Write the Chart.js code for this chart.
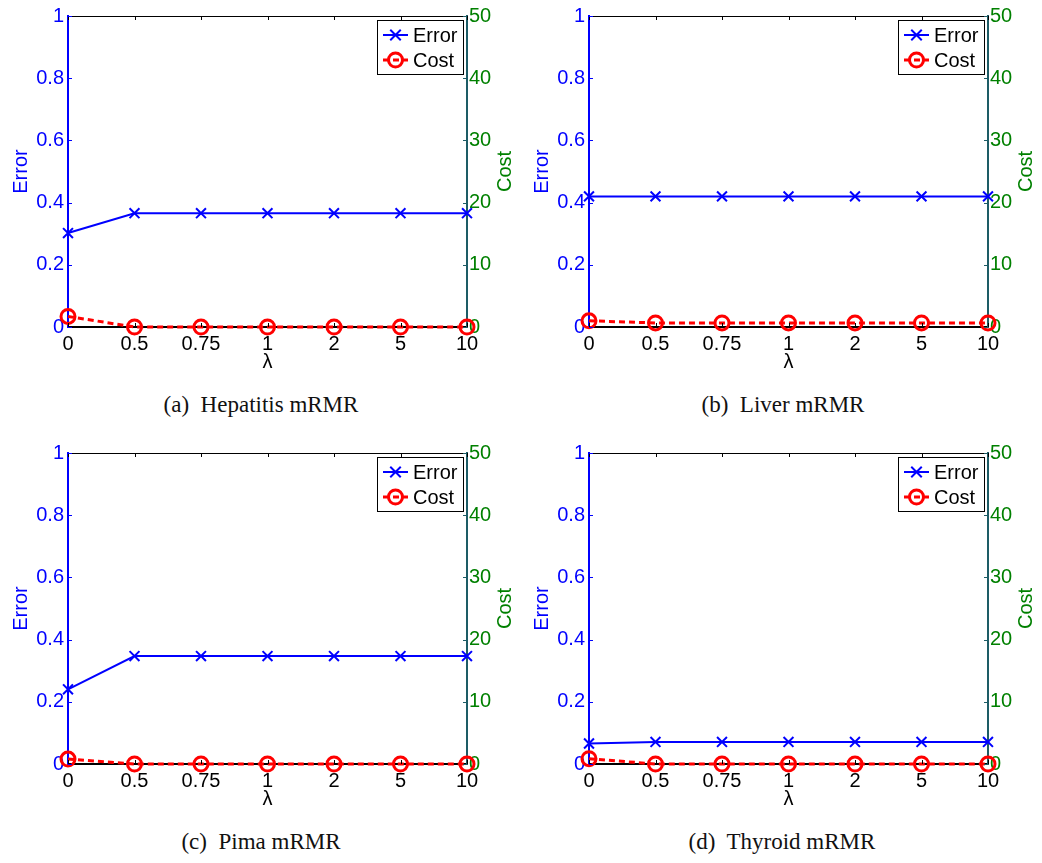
<!DOCTYPE html>
<html>
<head>
<meta charset="utf-8">
<script src="https://cdn.jsdelivr.net/npm/chart.js@4"></script>
<style>
  body { margin: 0; background: #fff; width: 1042px; height: 863px; position: relative; overflow: hidden; }
  .panel { position: absolute; width: 520px; height: 380px; }
  .caption { position: absolute; width: 520px; text-align: center; font-family: "Liberation Serif", "Times New Roman", serif; font-size: 23px; color: #111; white-space: pre; }
</style>
</head>
<body>
<canvas id="c-a" class="panel" width="520" height="380" style="left:0;top:0"></canvas>
<canvas id="c-b" class="panel" width="520" height="380" style="left:521px;top:0"></canvas>
<canvas id="c-c" class="panel" width="520" height="380" style="left:0;top:437px"></canvas>
<canvas id="c-d" class="panel" width="520" height="380" style="left:521px;top:437px"></canvas>
<div class="caption" style="left:1px;top:392px">(a)  Hepatitis mRMR</div>
<div class="caption" style="left:523px;top:392px">(b)  Liver mRMR</div>
<div class="caption" style="left:1px;top:829px">(c)  Pima mRMR</div>
<div class="caption" style="left:522px;top:829px">(d)  Thyroid mRMR</div>
<script>
const lambdaLabels = ["0", "0.5", "0.75", "1", "2", "5", "10"];
const errorTicks = ["0", "0.2", "0.4", "0.6", "0.8", "1"];
const costTicks = ["0", "10", "20", "30", "40", "50"];

const hepatitisError = [0.302, 0.366, 0.366, 0.366, 0.366, 0.366, 0.366];
const hepatitisCost = [1.7, 0, 0, 0, 0, 0, 0];
const liverError = [0.42, 0.42, 0.42, 0.42, 0.42, 0.42, 0.42];
const liverCost = [1.0, 0.65, 0.65, 0.65, 0.65, 0.65, 0.65];
const pimaError = [0.24, 0.347, 0.347, 0.347, 0.347, 0.347, 0.347];
const pimaCost = [0.8, 0, 0, 0, 0, 0, 0];
const thyroidError = [0.066, 0.071, 0.071, 0.071, 0.071, 0.071, 0.071];
const thyroidCost = [0.85, 0, 0, 0, 0, 0, 0];

const FONT = "'Liberation Sans', Arial, Helvetica, sans-serif";
const BLUE = "#0000ff";
const RED = "#ff0000";
const GREEN = "#008000";
const TEAL = "#1d5c66";

// matlab style inward ticks, top border, right title and boxed legend
const matlabFrame = {
    id: "matlabFrame",
    afterDraw(chart) {
        const ctx = chart.ctx;
        const a = chart.chartArea;
        const x = chart.scales.x, y = chart.scales.y, y1 = chart.scales.y1;
        const len = 4;
        ctx.save();
        ctx.lineWidth = 1;
        ctx.strokeStyle = "#000";
        ctx.beginPath();
        ctx.moveTo(a.left, a.top + 0.5);
        ctx.lineTo(a.right, a.top + 0.5);
        x.ticks.forEach((t, i) => {
            const px = Math.round(x.getPixelForTick(i)) + 0.5;
            ctx.moveTo(px, a.bottom);
            ctx.lineTo(px, a.bottom - len);
            ctx.moveTo(px, a.top);
            ctx.lineTo(px, a.top + len);
        });
        ctx.stroke();
        ctx.strokeStyle = BLUE;
        ctx.beginPath();
        y.ticks.forEach((t, i) => {
            const py = Math.round(y.getPixelForTick(i)) + 0.5;
            ctx.moveTo(a.left, py);
            ctx.lineTo(a.left + len, py);
        });
        ctx.stroke();
        ctx.strokeStyle = TEAL;
        ctx.beginPath();
        y1.ticks.forEach((t, i) => {
            const py = Math.round(y1.getPixelForTick(i)) + 0.5;
            ctx.moveTo(a.right, py);
            ctx.lineTo(a.right - len, py);
        });
        ctx.stroke();

        // right axis title reads upward like the left one
        ctx.save();
        ctx.translate(y1.right - 15, (a.top + a.bottom) / 2);
        ctx.rotate(-Math.PI / 2);
        ctx.font = "20px " + FONT;
        ctx.fillStyle = GREEN;
        ctx.textAlign = "center";
        ctx.textBaseline = "middle";
        ctx.fillText("Cost", 0, 0);
        ctx.restore();

        // legend
        const bw = 86, bh = 54;
        const bx = a.right - 4 - bw, by = a.top + 4;
        ctx.fillStyle = "#fff";
        ctx.fillRect(bx, by, bw, bh);
        ctx.strokeStyle = "#000";
        ctx.lineWidth = 1;
        ctx.strokeRect(bx + 0.5, by + 0.5, bw, bh);
        ctx.font = "20px " + FONT;
        ctx.textBaseline = "middle";
        chart.data.datasets.forEach((ds, i) => {
            const ry = by + 15 + i * 25;
            const x0 = bx + 6, x1 = bx + 31, cx = (x0 + x1) / 2;
            ctx.strokeStyle = ds.borderColor;
            ctx.lineWidth = ds.borderWidth;
            ctx.setLineDash(ds.borderDash || []);
            ctx.beginPath();
            ctx.moveTo(x0, ry);
            ctx.lineTo(x1, ry);
            ctx.stroke();
            ctx.setLineDash([]);
            ctx.lineWidth = ds.pointBorderWidth;
            ctx.beginPath();
            if (ds.pointStyle === "circle") {
                ctx.arc(cx, ry, ds.pointRadius, 0, Math.PI * 2);
            } else {
                const r = ds.pointRadius * 0.75;
                ctx.moveTo(cx - r, ry - r); ctx.lineTo(cx + r, ry + r);
                ctx.moveTo(cx - r, ry + r); ctx.lineTo(cx + r, ry - r);
            }
            ctx.stroke();
            ctx.fillStyle = "#000";
            ctx.fillText(ds.label, x1 + 5, ry + 1);
        });
        ctx.restore();
    }
};

function makeChart(id, errorData, costData) {
    return new Chart(document.getElementById(id), {
        type: "line",
        data: {
            labels: lambdaLabels,
            datasets: [{
                label: "Error",
                data: errorData,
                yAxisID: "y",
                borderColor: BLUE,
                borderWidth: 2,
                pointStyle: "crossRot",
                pointRadius: 7,
                pointBorderWidth: 2,
                pointBorderColor: BLUE,
                pointBackgroundColor: BLUE,
                tension: 0,
                clip: false
            }, {
                label: "Cost",
                data: costData,
                yAxisID: "y1",
                borderColor: RED,
                borderWidth: 3,
                borderDash: [6, 4],
                pointStyle: "circle",
                pointRadius: 7,
                pointBorderWidth: 3,
                pointBorderColor: RED,
                pointBackgroundColor: "rgba(0,0,0,0)",
                tension: 0,
                clip: false
            }]
        },
        options: {
            responsive: false,
            animation: false,
            layout: { padding: { top: 13, left: 0, right: 0, bottom: 0 } },
            plugins: { legend: { display: false }, tooltip: { enabled: false } },
            scales: {
                x: {
                    type: "category",
                    offset: false,
                    afterFit: s => { s.height = 53; },
                    grid: { display: false, drawTicks: false },
                    border: { display: true, color: "#000", width: 2 },
                    ticks: { color: "#000", font: { family: FONT, size: 20 }, padding: 5, maxRotation: 0, autoSkip: false },
                    title: { display: true, text: "λ", color: "#000", font: { family: FONT, size: 20 }, padding: { top: 0, bottom: 6 } }
                },
                y: {
                    position: "left",
                    min: 0, max: 1,
                    afterFit: s => { s.width = 68; },
                    afterBuildTicks: s => { s.ticks = errorTicks.map(v => ({ value: Number(v) })); },
                    grid: { display: false, drawTicks: false },
                    border: { display: true, color: BLUE, width: 2 },
                    ticks: { color: BLUE, font: { family: FONT, size: 20 }, padding: 4,
                             callback: (v, i) => errorTicks[i] },
                    title: { display: true, text: "Error", color: BLUE, font: { family: FONT, size: 20 }, padding: { top: 9, bottom: 0 } }
                },
                y1: {
                    position: "right",
                    min: 0, max: 50,
                    afterFit: s => { s.width = 53; },
                    afterBuildTicks: s => { s.ticks = costTicks.map(v => ({ value: Number(v) })); },
                    grid: { display: false, drawTicks: false },
                    border: { display: true, color: TEAL, width: 2 },
                    ticks: { color: GREEN, font: { family: FONT, size: 20 }, padding: 2,
                             callback: (v, i) => costTicks[i] },
                    title: { display: false, text: "Cost" }
                }
            }
        },
        plugins: [matlabFrame]
    });
}

makeChart("c-a", hepatitisError, hepatitisCost);
makeChart("c-b", liverError, liverCost);
makeChart("c-c", pimaError, pimaCost);
makeChart("c-d", thyroidError, thyroidCost);
</script>
</body>
</html>
